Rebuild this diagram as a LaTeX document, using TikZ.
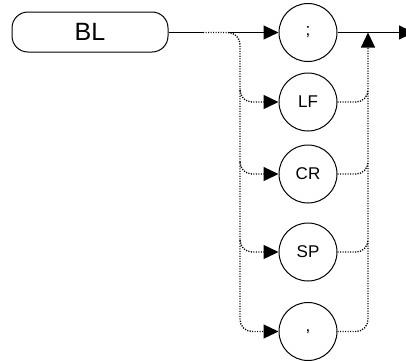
\documentclass[tikz,border=0pt]{standalone}
\usepackage{fontspec}
\setmainfont{Liberation Sans}
\usetikzlibrary{arrows.meta}
\begin{document}
\begin{tikzpicture}[x=1pt,y=-1pt,
  tok/.style={draw,circle,minimum size=58pt,inner sep=0pt,line width=1pt,font=\fontsize{17}{17}\selectfont},
  cmd/.style={draw,rounded corners=16pt,minimum width=156pt,minimum height=40pt,inner sep=0pt,line width=1pt,font=\fontsize{25}{25}\selectfont},
  conn/.style={line width=1pt},
  dot/.style={line width=1.3pt,dash pattern=on 1.2pt off 1.3pt},
  tip/.style={-{Triangle[length=15pt,width=14pt]}}
]
\useasboundingbox (0,0) rectangle (406,360);
\node[cmd] (bl) at (90,32) {BL};
\node[tok] (semi) at (308,32.5) {;};
\node[tok] (lf) at (308,102) {LF};
\node[tok] (cr) at (308,174) {CR};
\node[tok] (sp) at (308,252) {SP};
\node[tok] (comma) at (308,331.5) {,};
\coordinate (split) at (203,32.5);
\coordinate (solid) at (229,32.5);
\coordinate (lx) at (240,32.5);
\coordinate (join) at (368,32.5);
\coordinate (out) at (414,32.5);
% main line
\draw[conn] (bl.east |- split) -- (split);
\draw[conn,tip] (solid) -- (semi.west);
\draw[conn,tip] (semi.east) -- (out);
% left dotted trunk
\draw[dot,tip,rounded corners=12pt] (split) -- (lx) |- (comma.west);
\draw[dot,tip,rounded corners=12pt] (240,90) |- (lf.west);
\draw[dot,tip,rounded corners=12pt] (240,162) |- (cr.west);
\draw[dot,tip,rounded corners=12pt] (240,240) |- (sp.west);
% right dotted trunk
\draw[dot,tip,rounded corners=12pt] (comma.east) -| (join);
\draw[dot,rounded corners=12pt] (lf.east) -| (368,90);
\draw[dot,rounded corners=12pt] (cr.east) -| (368,162);
\draw[dot,rounded corners=12pt] (sp.east) -| (368,240);
\end{tikzpicture}
\end{document}
